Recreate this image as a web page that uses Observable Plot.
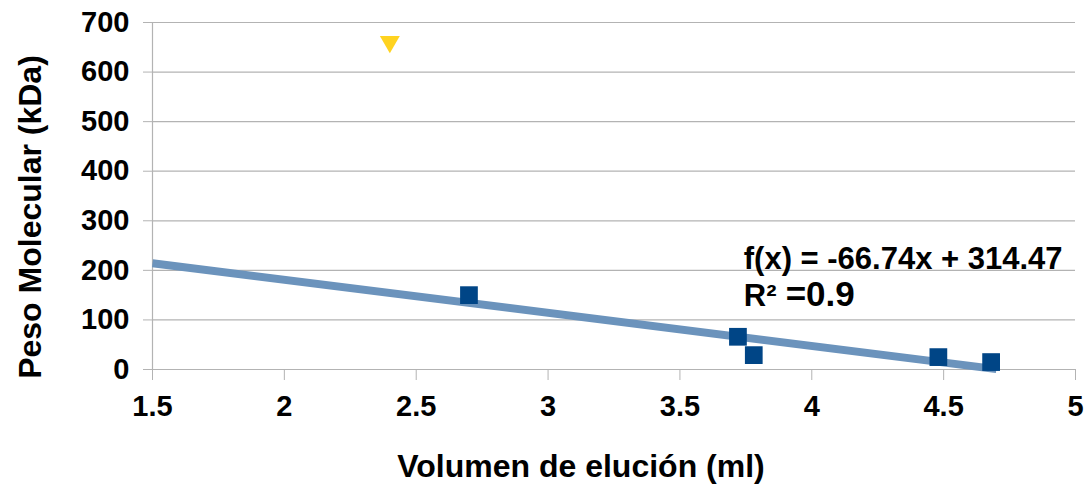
<!DOCTYPE html>
<html>
<head>
<meta charset="utf-8">
<script src="https://cdn.jsdelivr.net/npm/d3@7"></script>
<script src="https://cdn.jsdelivr.net/npm/@observablehq/plot@0.6"></script>
<style>
  html, body { margin: 0; padding: 0; background: #fff; }
  #chart svg { display: block; }
</style>
</head>
<body>
<div id="chart"></div>
<script>
// Calibration proteins (blue squares)
const volumes = [2.7, 3.72, 3.78, 4.48, 4.68];
const weights = [150, 66, 29, 25, 15];
// Unknown sample (yellow triangle)
const sampleVolume = [2.4];
const sampleWeight = [661];
// Trendline as reported: f(x) = -66.74x + 314.47, R² = 0.9
const slope = -66.74;
const intercept = 314.47;
const trendRange = [1.5, 4.7];
const xTicks = [1.5, 2, 2.5, 3, 3.5, 4, 4.5, 5];
const yTicks = [0, 100, 200, 300, 400, 500, 600, 700];
const equationLabel = "f(x) = -66.74x + 314.47";
const r2Label = "R²";
const r2Value = "=0.9";
const xTitle = "Volumen de elución (ml)";
const yTitle = "Peso Molecular (kDa)";

const calib = volumes.map((v, i) => ({x: v, y: weights[i]}));
const sample = sampleVolume.map((v, i) => ({x: v, y: sampleWeight[i]}));
const trend = trendRange.map(x => ({x, y: slope * x + intercept}));

const font = "'Liberation Sans', Arial, sans-serif";

const chart = Plot.plot({
  width: 1086,
  height: 487,
  marginLeft: 152,
  marginRight: 11,
  marginTop: 22,
  marginBottom: 118,
  style: {fontFamily: font, fontWeight: "bold", fontSize: "29px", color: "#000", background: "#fff"},
  x: {domain: [1.5, 5]},
  y: {domain: [0, 700]},
  marks: [
    Plot.ruleY(yTicks, {stroke: "#b3b3b3", strokeWidth: 1.2}),
    Plot.ruleX([1.5], {stroke: "#b3b3b3", strokeWidth: 1.2}),
    Plot.axisX({ticks: xTicks, tickSize: 11, tickPadding: 15, stroke: "#b3b3b3", strokeOpacity: 1, label: null, fill: "#000", fontSize: 29, tickFormat: d => String(d)}),
    Plot.axisY({ticks: yTicks, tickSize: 9, tickPadding: 14, stroke: "#b3b3b3", strokeOpacity: 1, label: null, fill: "#000", fontSize: 29}),
    Plot.line(trend, {x: "x", y: "y", stroke: "#6b93bc", strokeWidth: 8, strokeLinecap: "butt"}),
    Plot.dot(calib, {x: "x", y: "y", symbol: "square", r: 10, fill: "#004586", stroke: null}),
    Plot.dot(sample, {x: "x", y: "y", symbol: "triangle", r: 7.4, rotate: 180, fill: "#ffd320", stroke: null}),
    Plot.text([equationLabel], {x: 3.742, y: 203, text: d => d, textAnchor: "start", lineAnchor: "bottom", fontSize: 31, fill: "#000"}),
    Plot.text([r2Label], {x: 3.742, y: 128, text: d => d, textAnchor: "start", lineAnchor: "bottom", fontSize: 31, fill: "#000"}),
    Plot.text([r2Value], {x: 3.901, y: 128, text: d => d, textAnchor: "start", lineAnchor: "bottom", fontSize: 35, fill: "#000"}),
    Plot.text([xTitle], {frameAnchor: "bottom", dx: -33, dy: 97, text: d => d, textAnchor: "middle", lineAnchor: "middle", fontSize: 32, fill: "#000"}),
    Plot.text([yTitle], {frameAnchor: "left", dx: -122, dy: 21, rotate: -90, text: d => d, textAnchor: "middle", lineAnchor: "middle", fontSize: 32, fill: "#000"})
  ]
});
document.getElementById("chart").appendChild(chart);
</script>
</body>
</html>
